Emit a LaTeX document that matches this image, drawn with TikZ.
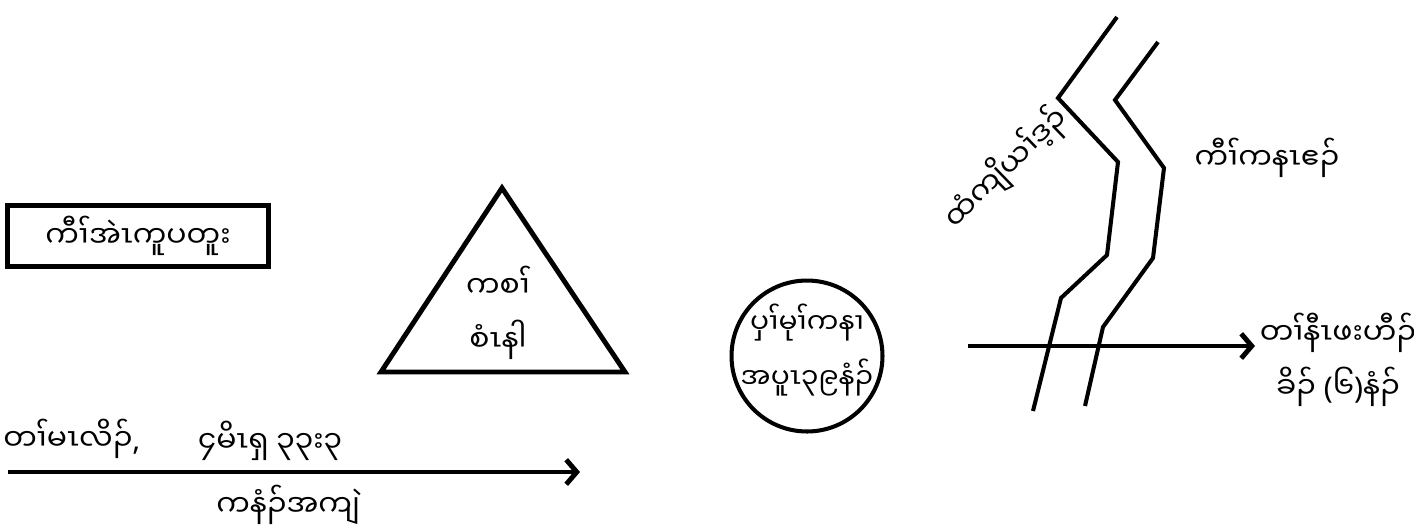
\documentclass[tikz,border=0pt]{standalone}
\usepackage{fontspec}
\newfontfamily\karen[Script=Myanmar]{Noto Sans Myanmar UI}
\newfontfamily\latin{Noto Sans}
\usetikzlibrary{arrows.meta,positioning}
\tikzset{
  place/.style={font=\karen\fontsize{17}{31}\selectfont,inner sep=0pt,align=center},
  frame/.style={draw,line width=2.8pt},
  route/.style={-{Straight Barb[length=6pt,width=14pt]},line width=2.8pt},
  river/.style={line width=2.3pt,line join=miter}
}

\begin{document}
\begin{tikzpicture}[x=0.02cm,y=-0.02cm]
  \useasboundingbox (0,0) rectangle (1414,529);
  % Egypt
  \node[place,frame,minimum width=5.22cm,minimum height=1.22cm] (egypt) at (138,236) {ကီၢ်အဲၤကူပတူး};
  % Mount Sinai
  \coordinate (peak) at (502,188);
  \coordinate (footl) at (381,372);
  \coordinate (footr) at (625,372);
  \draw[frame] (peak) -- (footl) -- (footr) -- cycle;
  \node[place] (sinai) at (498,313) {ကစၢ်\\စံၤနါ};
  % wilderness
  \node[draw,circle,line width=2.3pt,minimum size=3.02cm,inner sep=0pt] (desert) at (807,356) {};
  \node[place,font=\karen\fontsize{16}{31}\selectfont] (desertname) at (807,350) {ပှၢ်မုၢ်ကနၢ\\အပူၤ၃၉နံၣ်};
  % timeline
  \coordinate (start) at (8,472);
  \coordinate (stop) at (580,472);
  \draw[route] (start) -- (stop);
  \node[place,anchor=west] (depart) at (3,439) {တၢ်မၤလိၣ်{\latin\bfseries,}};
  \node[place] (verse) at (270,441) {၄မိၤရှ ၃၃း၃};
  \node[place] (way) at (288,505) {ကနံၣ်အကျဲ};
  % Jordan
  \draw[river] (1117,17) -- (1058,98) -- (1118,162) -- (1107,255) -- (1061,298) -- (1033,411);
  \draw[river] (1158,42) -- (1115,100) -- (1164,168) -- (1153,258) -- (1103,327) -- (1085,406);
  \node[place,rotate=44] (jordan) at (1006,168) {ထံကျိယၢ်ဒ့ၣ်};
  \node[place] (canaan) at (1267,158) {ကီၢ်ကနၤဧၣ်};
  % crossing
  \coordinate (cross) at (968,346);
  \coordinate (land) at (1255,346);
  \draw[route] (cross) -- (land);
  \node[place] (conquest) at (1338,360) {တၢ်နီၤဖးဟီၣ်\\ခိၣ် {\latin(}၆{\latin)}နံၣ်};
\end{tikzpicture}
\end{document}
